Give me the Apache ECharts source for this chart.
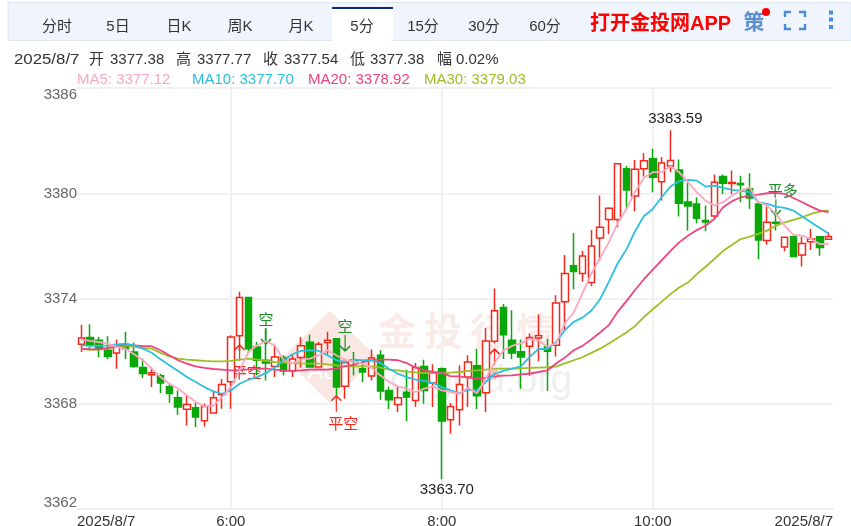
<!DOCTYPE html>
<html>
<head>
<meta charset="utf-8">
<title>金投网 5分</title>
<style>
  html, body { margin: 0; padding: 0; background: #fff; }
  #main { width: 851px; height: 526px; }
</style>
</head>
<body>
<div id="main"></div>
<script src="https://cdn.jsdelivr.net/npm/echarts@6/dist/echarts.min.js"></script>
<script>
const times = [
  '4:35','4:40','4:45','4:50','4:55','5:00','5:05','5:10','5:15','5:20','5:25','5:30','5:35','5:40','5:45','5:50','5:55',
  '6:00','6:05','6:10','6:15','6:20','6:25','6:30','6:35','6:40','6:45','6:50','6:55','7:00','7:05','7:10','7:15','7:20','7:25','7:30','7:35','7:40','7:45','7:50','7:55',
  '8:00','8:05','8:10','8:15','8:20','8:25','8:30','8:35','8:40','8:45','8:50','8:55','9:00','9:05','9:10','9:15','9:20','9:25','9:30','9:35','9:40','9:45','9:50','9:55',
  '10:00','10:05','10:10','10:15','10:20','10:25','10:30','10:35','10:40','10:45','10:50','10:55','11:00','11:05','11:10','11:15','11:20','11:25','11:30','11:35','11:40'
]
const opens = [
  3371.39,3371.77,3371.62,3371.05,3370.90,3371.39,3370.95,3370.06,3369.66,3369.60,3368.97,3368.34,3367.68,3367.77,3367.03,3367.47,3368.53,
  3369.26,3371.87,3374.06,3371.24,3370.48,3370.13,3370.63,3369.87,3370.63,3371.50,3370.10,3371.49,3371.71,3369.00,3370.50,3370.00,3369.58,3370.76,3368.76,3367.96,3368.65,3368.19,3370.13,3369.18,
  3370.00,3367.09,3367.66,3369.52,3370.17,3368.63,3371.56,3373.49,3371.62,3370.97,3371.28,3371.75,3371.24,3371.33,3373.81,3375.87,3375.43,3374.91,3377.45,3378.50,3378.50,3381.39,3379.85,3381.39,
  3381.96,3380.65,3381.56,3381.33,3379.50,3379.39,3378.44,3378.70,3380.95,3380.55,3380.55,3380.25,3379.39,3377.30,3378.34,3376.93,3377.52,3376.48,3377.24,3377.52,3377.38
]
const closes = [
  3371.75,3371.39,3371.16,3370.70,3371.24,3371.14,3370.13,3369.73,3369.77,3369.18,3368.59,3367.81,3367.96,3367.24,3367.85,3368.34,3369.10,
  3371.81,3374.06,3371.14,3370.48,3370.32,3370.67,3369.87,3370.55,3371.31,3370.10,3371.39,3371.62,3368.95,3370.34,3370.44,3369.81,3370.61,3368.72,3368.23,3368.34,3368.38,3370.06,3368.76,3369.75,
  3367.01,3367.85,3369.10,3370.38,3368.46,3371.58,3373.30,3371.94,3370.90,3370.67,3371.77,3371.89,3371.00,3373.75,3375.43,3375.54,3376.42,3376.99,3378.06,3379.14,3381.68,3380.19,3381.37,3381.85,
  3380.91,3381.73,3381.87,3379.43,3379.28,3378.57,3378.36,3380.63,3380.57,3380.61,3380.48,3379.73,3377.33,3378.34,3378.29,3377.49,3376.40,3377.14,3377.39,3376.91,3377.54
]
const lows = [
  3370.95,3371.05,3370.67,3370.53,3370.00,3370.55,3370.05,3369.47,3368.95,3368.61,3368.06,3367.37,3366.76,3366.67,3366.70,3367.43,3367.71,
  3367.71,3371.00,3370.90,3369.62,3369.33,3369.52,3369.62,3369.52,3370.06,3370.10,3370.06,3370.82,3368.48,3368.29,3369.62,3369.24,3369.33,3368.23,3367.70,3367.52,3367.00,3367.81,3368.00,3367.81,
  3363.70,3366.29,3366.76,3367.81,3367.70,3367.52,3371.43,3370.55,3370.55,3368.86,3369.60,3370.44,3368.72,3370.70,3372.19,3374.53,3374.95,3374.70,3376.15,3377.68,3378.06,3379.10,3378.97,3380.95,
  3380.06,3379.58,3381.20,3378.67,3377.87,3378.29,3377.83,3378.53,3379.96,3379.96,3379.49,3379.10,3376.25,3377.07,3377.87,3376.69,3376.40,3375.83,3376.76,3376.44,3377.38
]
const highs = [
  3372.51,3372.53,3371.81,3371.85,3371.66,3372.10,3371.49,3370.57,3370.06,3369.71,3369.18,3368.76,3368.46,3368.06,3368.00,3368.76,3369.41,
  3371.90,3374.38,3374.06,3371.52,3372.29,3371.33,3370.76,3370.76,3371.81,3371.94,3371.52,3372.10,3371.71,3370.57,3370.95,3370.48,3371.09,3371.05,3368.99,3369.03,3369.94,3370.32,3370.51,3370.25,
  3370.06,3368.04,3370.19,3370.76,3371.14,3372.32,3374.57,3373.68,3373.33,3371.66,3372.00,3373.09,3371.71,3374.19,3376.48,3377.73,3376.72,3377.90,3379.87,3379.20,3381.68,3381.56,3381.90,3382.29,
  3382.53,3382.06,3383.59,3381.92,3380.60,3379.77,3379.30,3381.07,3381.07,3381.30,3381.00,3381.14,3379.49,3379.24,3378.90,3377.49,3377.52,3377.52,3377.96,3377.52,3377.77
]
const ma5 = [
  3371.66,3371.58,3371.52,3371.43,3371.24,3371.14,3370.82,3370.48,3370.00,3369.52,3369.14,3368.86,3368.48,3368.10,3367.85,3367.90,3368.38,
  3368.95,3369.90,3370.95,3371.33,3371.56,3371.33,3370.48,3370.29,3370.51,3370.57,3370.76,3371.05,3370.76,3370.48,3370.42,3370.29,3370.06,3369.62,3369.24,3368.99,3368.86,3368.67,3368.86,3368.99,
  3368.76,3368.67,3368.57,3368.91,3368.60,3369.43,3370.35,3371.03,3371.30,3371.45,3371.70,3371.60,3371.25,3371.44,3372.60,3373.20,3374.30,3375.40,3376.30,3377.20,3378.30,3379.10,3380.10,3380.88,
  3381.20,3381.20,3381.54,3381.20,3380.63,3380.06,3379.58,3379.30,3379.49,3379.87,3380.15,3380.34,3379.49,3379.30,3378.82,3378.15,3377.62,3377.58,3377.39,3377.10,3377.12
]
const ma10 = [
  3371.33,3371.30,3371.30,3371.33,3371.39,3371.43,3371.33,3371.14,3370.91,3370.53,3370.19,3369.87,3369.52,3369.24,3368.95,3368.70,3368.57,
  3368.76,3369.14,3369.37,3369.52,3369.75,3370.06,3370.48,3370.82,3371.01,3371.05,3371.01,3370.76,3370.48,3370.38,3370.51,3370.48,3370.48,3370.32,3370.00,3369.71,3369.52,3369.37,3369.30,3369.18,
  3368.95,3368.76,3368.61,3368.80,3368.76,3369.24,3369.71,3369.87,3370.00,3370.13,3370.67,3371.12,3371.12,3371.52,3372.20,3372.67,3372.91,3373.30,3373.96,3374.95,3376.00,3376.80,3377.85,3378.70,
  3379.10,3379.77,3380.38,3380.69,3380.76,3380.72,3380.38,3380.44,3380.30,3380.19,3380.15,3380.06,3379.49,3379.39,3379.24,3379.16,3379.01,3378.67,3378.34,3378.02,3377.70
]
const ma20 = [
  3371.14,3371.10,3371.10,3371.18,3371.28,3371.37,3371.33,3371.28,3371.28,3371.05,3370.76,3370.48,3370.29,3370.13,3370.04,3369.98,3369.94,
  3369.90,3369.92,3369.96,3370.00,3370.00,3369.94,3369.90,3369.87,3369.90,3369.94,3369.96,3369.94,3370.02,3370.15,3370.21,3370.38,3370.48,3370.51,3370.51,3370.48,3370.32,3370.06,3369.90,3369.81,
  3369.77,3369.56,3369.56,3369.49,3369.43,3369.49,3369.56,3369.60,3369.62,3369.68,3369.71,3369.81,3369.90,3370.29,3370.63,3371.05,3371.30,3371.66,3372.06,3372.48,3373.24,3373.85,3374.50,3375.10,
  3375.64,3376.17,3376.70,3377.20,3377.58,3377.90,3378.15,3378.53,3379.20,3379.54,3379.77,3379.87,3379.92,3380.00,3380.02,3379.96,3379.73,3379.49,3379.24,3379.01,3378.92
]
const ma30 = [
  3371.12,3371.08,3371.08,3371.16,3371.26,3371.32,3371.24,3371.18,3371.14,3370.90,3370.70,3370.57,3370.51,3370.48,3370.44,3370.42,3370.42,
  3370.44,3370.51,3370.57,3370.51,3370.44,3370.38,3370.34,3370.32,3370.30,3370.29,3370.29,3370.25,3370.19,3370.13,3370.13,3370.13,3370.13,3370.06,3369.94,3369.90,3369.83,3369.79,3369.75,3369.75,
  3369.75,3369.77,3369.81,3369.87,3369.90,3369.94,3370.00,3370.00,3370.00,3370.02,3370.04,3370.06,3370.08,3370.12,3370.30,3370.48,3370.65,3370.90,3371.14,3371.43,3371.75,3372.06,3372.44,3372.95,
  3373.39,3373.81,3374.25,3374.63,3374.91,3375.39,3375.81,3376.25,3376.72,3377.05,3377.39,3377.52,3377.68,3377.87,3378.15,3378.34,3378.48,3378.63,3378.82,3378.95,3379.03
]
const axisTicks = { 17: '6:00', 41: '8:00', 65: '10:00' }
const dateLabel = '2025/8/7'
const tabs = ['分时', '5日', '日K', '周K', '月K', '5分', '15分', '30分', '60分']
const infoParts = [
  ['开', 89], ['3377.38', 110], ['高', 176], ['3377.77', 197], ['收', 263], ['3377.54', 284],
  ['低', 350], ['3377.38', 370], ['幅', 437], ['0.02%', 456]
]
const legendNames = ['MA5: 3377.12', 'MA10: 3377.70', 'MA20: 3378.92', 'MA30: 3379.03']
const legendColors = ['#f9a8c0', '#2cc0e0', '#ee4480', '#9cbf25']
const legendX = [77, 192, 308, 424]

// trade signals: [bar index, price, text, up/down]
const signals = [
  [18, 3370.89, '平空', 'up'],
  [21, 3371.86, '空', 'down'],
  [29, 3368.0, '平空', 'up'],
  [30, 3371.46, '空', 'down'],
  [47, 3370.66, '多', 'up'],
  [79, 3379.2, '平多', 'down']
]

const font = '"Liberation Sans", "Noto Sans CJK SC", sans-serif'
const RED = '#f5281c'
const GREEN = '#08a808'
const arrowUp = 'path://M5 0L0 5M5 0L10 5M5 0L5 16'
const arrowDown = 'path://M5 16L0 11M5 16L10 11M5 16L5 0'

const candles = opens.map((o, i) => [o, closes[i], lows[i], highs[i]])

const signalPoints = signals.map(([i, price, text, dir]) => {
  const color = dir === 'up' ? RED : '#1a8f2a'
  const faint = text === '多'
  return {
    coord: [times[i], price],
    symbol: dir === 'up' ? arrowUp : arrowDown,
    symbolSize: [10, 16],
    itemStyle: { color: 'none', borderColor: color, borderWidth: 1.5 },
    label: {
      show: true,
      formatter: text,
      color,
      opacity: faint ? 0.5 : 1,
      fontSize: faint ? 11 : 15,
      fontFamily: font,
      position: dir === 'up' ? 'bottom' : 'top',
      distance: 3,
      offset: [text.length > 1 ? 7 : 0, dir === 'up' ? -1 : 6]
    }
  }
})

const extremePoint = (i, price, pos, offset) => ({
  coord: [times[i], price],
  symbol: 'circle',
  symbolSize: 1,
  itemStyle: { color: 'transparent' },
  label: {
    show: true,
    formatter: price.toFixed(2),
    color: '#222',
    fontSize: 15,
    fontFamily: font,
    position: pos,
    distance: 3,
    offset
  }
})

function maSeries(name, data, color) {
  return {
    name,
    type: 'line',
    data,
    showSymbol: false,
    smooth: false,
    silent: true,
    z: 3,
    lineStyle: { color, width: 1.8 },
    itemStyle: { color }
  }
}

const gfx = []
// tab bar
gfx.push({ type: 'rect', shape: { x: 8, y: 2.5, width: 843, height: 38 }, style: { fill: '#f0f5fd', stroke: '#dde6f3', lineWidth: 1 }, z: 1 })
gfx.push({ type: 'rect', shape: { x: 332, y: 8, width: 61, height: 33 }, style: { fill: '#fff' }, z: 2 })
gfx.push({ type: 'rect', shape: { x: 332, y: 7, width: 61, height: 2 }, style: { fill: '#0b2c7c' }, z: 2 })
tabs.forEach((t, i) => {
  gfx.push({ type: 'text', x: 57 + i * 61, y: 26.5, style: { text: t, fill: '#333', font: '15px ' + font, textAlign: 'center', textVerticalAlign: 'middle' }, z: 3 })
})
gfx.push({ type: 'text', x: 590, y: 24, style: { text: '打开金投网APP', fill: '#f00', font: 'bold 20px ' + font, textVerticalAlign: 'middle' }, z: 3 })
gfx.push({ type: 'text', x: 754, y: 23, style: { text: '策', fill: '#5b8fd0', font: 'bold 21px ' + font, textAlign: 'center', textVerticalAlign: 'middle' }, z: 3 })
gfx.push({ type: 'circle', shape: { cx: 766, cy: 12, r: 4 }, style: { fill: '#f00' }, z: 4 })
;[[[785, 17], [785, 12], [791, 12]], [[799, 12], [805, 12], [805, 17]], [[805, 24], [805, 29], [799, 29]], [[791, 29], [785, 29], [785, 24]]].forEach(pts => {
  gfx.push({ type: 'polyline', shape: { points: pts }, style: { fill: 'none', stroke: '#4a8ad6', lineWidth: 2.4 }, z: 3 })
})
;[12.5, 19.5, 27].forEach(cy => {
  gfx.push({ type: 'rect', shape: { x: 829, y: cy - 2, width: 4, height: 4 }, style: { fill: '#4a8ad6' }, z: 3 })
})
// info line
gfx.push({ type: 'text', x: 14, y: 60, scaleX: 1.12, style: { text: dateLabel, fill: '#333', font: '15px ' + font, textVerticalAlign: 'middle' }, z: 3 })
infoParts.forEach(([t, x]) => {
  gfx.push({ type: 'text', x, y: 60, style: { text: t, fill: '#333', font: '15px ' + font, textVerticalAlign: 'middle' }, z: 3 })
})
legendNames.forEach((t, i) => {
  gfx.push({ type: 'text', x: legendX[i], y: 80, style: { text: t, fill: legendColors[i], font: '15px ' + font, textVerticalAlign: 'middle' }, z: 3 })
})
// date at both ends of the time axis
gfx.push({ type: 'text', x: 77, y: 522, style: { text: dateLabel, fill: '#333', font: '15px ' + font, textVerticalAlign: 'middle' }, z: 3 })
gfx.push({ type: 'text', x: 833, y: 522, style: { text: dateLabel, fill: '#333', font: '15px ' + font, textAlign: 'right', textVerticalAlign: 'middle' }, z: 3 })
// watermark
gfx.push({ type: 'rect', x: 330, y: 357, shape: { x: -33, y: -33, width: 66, height: 66, r: 4 }, rotation: Math.PI / 4, style: { fill: '#f9e7e3' }, z: 0 })
gfx.push({ type: 'text', x: 322, y: 372, style: { text: 'Au', fill: '#fff', font: '24px ' + font, textAlign: 'center', textVerticalAlign: 'middle' }, z: 0 })
;['金', '投', '行', '情'].forEach((t, i) => {
  gfx.push({ type: 'text', x: 397 + i * 46, y: 331, style: { text: t, fill: '#f9ebe7', font: 'bold 38px "Noto Sans CJK SC"', textAlign: 'center', textVerticalAlign: 'middle' }, z: 0 })
})
gfx.push({ type: 'text', x: 390, y: 381, style: { text: 'cngold.org', fill: '#efefef', font: '39px ' + font, textVerticalAlign: 'middle' }, z: 0 })

const yLabelStyle = { color: '#666', fontSize: 15, fontFamily: font }

const myChart = echarts.init(document.getElementById('main'))
myChart.setOption({
  animation: false,
  backgroundColor: '#fff',
  grid: { left: 77, top: 88, width: 756, height: 421, containLabel: false, outerBoundsMode: 'none' },
  xAxis: {
    type: 'category',
    data: times,
    boundaryGap: true,
    axisLine: { show: true, lineStyle: { color: '#eee', width: 2 } },
    axisTick: { show: false, alignWithLabel: true },
    splitLine: {
      show: true,
      alignWithLabel: true,
      interval: i => i === 17 || i === 41 || i === 65,
      lineStyle: { color: '#f0f0f0', width: 2 }
    },
    axisLabel: {
      color: '#333',
      fontSize: 15,
      fontFamily: font,
      margin: 5,
      interval: i => axisTicks[i] !== undefined,
      formatter: (v, i) => axisTicks[i] || ''
    }
  },
  yAxis: {
    type: 'value',
    scale: true,
    min: 3362,
    max: 3386,
    interval: 6,
    axisLine: { show: false },
    axisTick: { show: false },
    splitLine: { show: true, lineStyle: { color: '#f0f0f0', width: 2 } },
    axisLabel: {
      margin: 0,
      formatter: v => `{${v === 3386 ? 'top' : v === 3362 ? 'bot' : 'mid'}|${v}}`,
      rich: {
        top: { ...yLabelStyle, padding: [14, 0, 0, 0] },
        mid: { ...yLabelStyle, padding: [1, 0, 0, 0] },
        bot: { ...yLabelStyle, padding: [0, 0, 13, 0] }
      }
    }
  },
  graphic: { elements: gfx },
  series: [
    {
      type: 'candlestick',
      data: candles,
      barWidth: 7,
      z: 2,
      silent: true,
      itemStyle: {
        color: '#fff',
        color0: GREEN,
        borderColor: RED,
        borderColor0: GREEN,
        borderWidth: 1.5
      },
      markPoint: {
        silent: true,
        z: 2,
        data: signalPoints.concat([
          extremePoint(67, highs[67], 'top', [5, 0]),
          extremePoint(41, lows[41], 'bottom', [5, 0])
        ])
      }
    },
    maSeries('MA30', ma30, legendColors[3]),
    maSeries('MA20', ma20, legendColors[2]),
    maSeries('MA10', ma10, legendColors[1]),
    maSeries('MA5', ma5, legendColors[0])
  ]
})
</script>
</body>
</html>
